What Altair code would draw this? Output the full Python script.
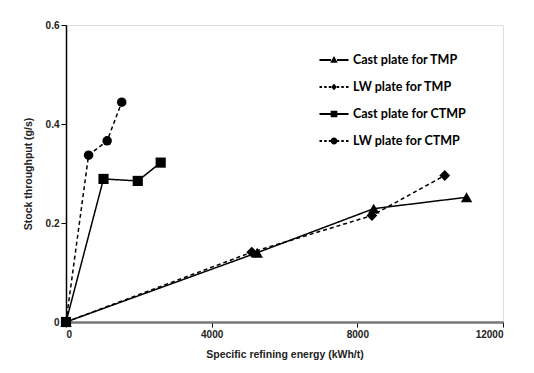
import altair as alt
import pandas as pd

series_names = ["Cast plate for TMP", "LW plate for TMP", "Cast plate for CTMP", "LW plate for CTMP"]

cast_tmp_x = [0, 5250, 8450, 11000]
cast_tmp_y = [0.0, 0.140, 0.229, 0.252]
lw_tmp_x = [0, 5100, 8400, 10400]
lw_tmp_y = [0.0, 0.141, 0.215, 0.296]
cast_ctmp_x = [0, 1030, 1970, 2600]
cast_ctmp_y = [0.0, 0.289, 0.285, 0.322]
lw_ctmp_x = [0, 620, 1130, 1530]
lw_ctmp_y = [0.0, 0.337, 0.366, 0.444]

x_ticks = [0, 4000, 8000, 12000]
y_ticks = [0, 0.2, 0.4, 0.6]

rows = []
for name, xs, ys in zip(series_names,
                        [cast_tmp_x, lw_tmp_x, cast_ctmp_x, lw_ctmp_x],
                        [cast_tmp_y, lw_tmp_y, cast_ctmp_y, lw_ctmp_y]):
    for i, (xv, yv) in enumerate(zip(xs, ys)):
        rows.append({"series": name, "energy": xv, "throughput": yv, "idx": i})
df = pd.DataFrame(rows)

marker_shapes = ["triangle-up", "diamond", "square", "circle"]
marker_sizes = [130, 90, 130, 100]

# legend glyphs: line (solid or dashed, drawn as thin bars) with a small marker in the middle
def bar(x0, x1, h=0.09):
    return f"M{x0},-{h}H{x1}V{h}H{x0}Z"

solid = bar(-1.45, -0.3) + bar(0.3, 1.45)
dashed = bar(-1.45, -1.2) + bar(-0.98, -0.73) + bar(-0.52, -0.3) + bar(0.3, 0.52) + bar(0.73, 0.98) + bar(1.2, 1.45)
tri = "M0,-0.4L0.38,0.28L-0.38,0.28Z"
dia = "M0,-0.33L0.3,0L0,0.33L-0.3,0Z"
sq = "M-0.33,-0.33H0.33V0.33H-0.33Z"
circ = "M-0.34,0A0.34,0.34 0 1,1 0.34,0A0.34,0.34 0 1,1 -0.34,0Z"
legend_paths = [solid + tri, dashed + dia, solid + sq, dashed + circ]

x_enc = alt.X("energy:Q", scale=alt.Scale(domain=[0, 12000], nice=False),
              axis=alt.Axis(values=x_ticks, format="d", title="Specific refining energy (kWh/t)",
                            grid=False, domainColor="#777777", domainWidth=2.5,
                            tickColor="black", tickSize=5, labelFontSize=10,
                            labelFont="Liberation Sans", titleFont="Liberation Sans",
                            titleFontSize=10.5, titleFontWeight="bold", labelFontWeight="bold",
                            labelColor="#222222", titleColor="#222222", titlePadding=10))
y_enc = alt.Y("throughput:Q", scale=alt.Scale(domain=[0, 0.6], nice=False),
              axis=alt.Axis(values=y_ticks, labelExpr="datum.value == 0 ? '0' : format(datum.value, '.1f')",
                            title="Stock throughput (g/s)", grid=False, domainColor="black",
                            domainWidth=1.5, tickColor="black", tickSize=5, labelFontSize=10,
                            labelFont="Liberation Sans", titleFont="Liberation Sans",
                            titleFontSize=10.5, titleFontWeight="bold", labelFontWeight="bold",
                            labelColor="#222222", titleColor="#222222", titlePadding=12))

base = alt.Chart(df)

lines = base.mark_line(color="black", strokeWidth=1.5).encode(
    x=x_enc, y=y_enc,
    strokeDash=alt.StrokeDash("series:N",
                              scale=alt.Scale(domain=series_names,
                                              range=[[1, 0], [4, 3], [1, 0], [4, 3]]),
                              legend=None),
    detail="series:N",
    order="idx:Q",
)

points = base.mark_point(filled=True, color="black", opacity=1).encode(
    x="energy:Q", y="throughput:Q",
    shape=alt.Shape("series:N", scale=alt.Scale(domain=series_names, range=marker_shapes), legend=None),
    size=alt.Size("series:N", scale=alt.Scale(domain=series_names, range=marker_sizes), legend=None),
)

legend_layer = base.mark_point(clip=True, filled=True, color="black", opacity=1, size=400).encode(
    x=alt.value(-2000), y=alt.value(-2000),
    shape=alt.Shape("series:N",
                    scale=alt.Scale(domain=series_names, range=legend_paths),
                    legend=alt.Legend(title=None, orient="none", legendX=257, legendY=24,
                                      symbolSize=400, symbolFillColor="black",
                                      symbolOpacity=1, labelOffset=8, rowPadding=9,
                                      labelFont="Lato", labelFontSize=12.5,
                                      labelFontWeight="bold", labelColor="black",
                                      labelLimit=300)),
)

chart = alt.layer(lines, points, legend_layer).resolve_scale(
    shape="independent", size="independent", strokeDash="independent"
).properties(
    width=437, height=297,
    autosize=alt.AutoSizeParams(type="none"),
    padding={"left": 58, "top": 17, "right": 22, "bottom": 45},
).configure_view(stroke="black", strokeWidth=1.5).configure(background="white")

chart.save("out.html", embed_options={"renderer": "svg", "actions": False})
